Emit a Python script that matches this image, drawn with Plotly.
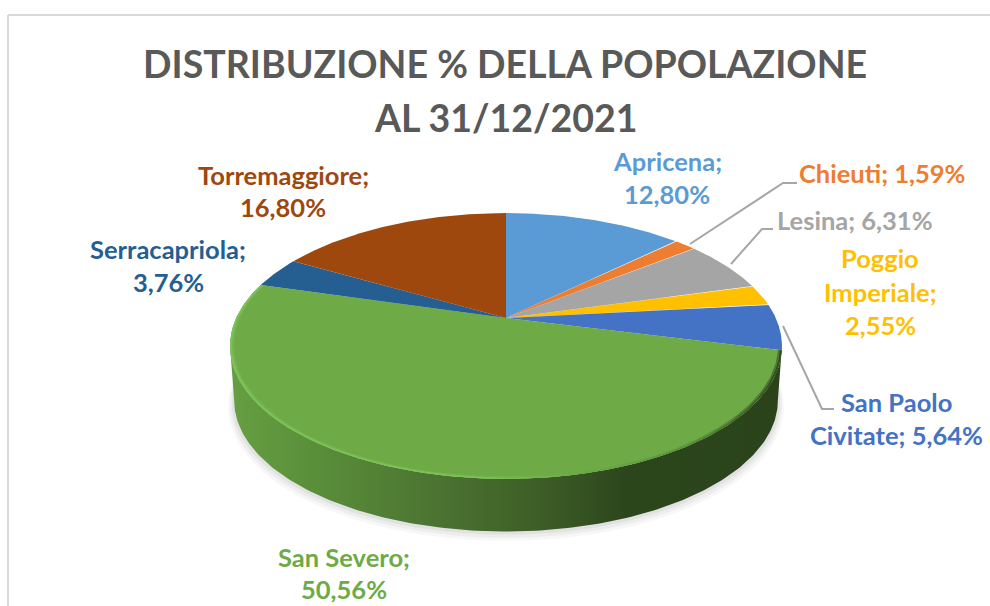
import numpy as np
import plotly.graph_objects as go

# ---- data ----
categories = ["Apricena", "Chieuti", "Lesina", "Poggio Imperiale", "San Paolo Civitate",
              "San Severo", "Serracapriola", "Torremaggiore"]
shares = [12.80, 1.59, 6.31, 2.55, 5.64, 50.56, 3.76, 16.80]
colors = ["#5B9BD5", "#ED7D31", "#A5A5A5", "#FFC000", "#4472C4", "#6EAB46", "#255E91", "#9E480E"]
title_lines = ["DISTRIBUZIONE % DELLA POPOLAZIONE", "AL 31/12/2021"]
# how each label wraps, {v} = value
label_templates = ["Apricena;|{v}", "Chieuti; {v}", "Lesina; {v}", "Poggio|Imperiale;|{v}",
                   "San Paolo|Civitate; {v}", "San Severo;|{v}", "Serracapriola;|{v}", "Torremaggiore;|{v}"]

# ---- layout geometry (pixels) ----
W, H = 990, 606
CX, CY = 506, 318        # apex of the pie on screen
A, B, K = 269.8, 127.0, 0.2105   # projected circle
DEPTH = 55
label_pos = [(667, [161, 194]), (882, [173]), (855, [220]), (880, [258, 292, 325]),
             (896, [402, 435]), (344, [557, 589]), (168, [249, 282]), (283, [175, 207])]
title_pos = [(505, 63), (505, 117)]
leaders = [[(690, 244), (783, 183), (797, 183)],
           [(731, 264), (762, 229), (773, 229)],
           [(783, 326), (822, 409), (834, 409)]]
FONT = "Lato, Carlito, Calibri, sans-serif"


def rim(theta, scale=1.0, dy=0.0):
    s, c = np.sin(theta), np.cos(theta)
    d = 1 + K * c
    return CX + scale * A * s / d, CY - scale * B * c / d + dy


vals = np.array(shares, dtype=float)
edges = np.concatenate([[0], np.cumsum(vals)]) / vals.sum() * 2 * np.pi

fig = go.Figure()

# front arc covered by the side wall: from right extreme to the left extreme
front = np.linspace(np.arccos(-K), 2 * np.pi - np.arccos(-K), 200)

# soft shadow
for grow, dy, op in [(1.022, 6, 0.05), (1.015, 4, 0.06), (1.008, 2, 0.08)]:
    th = np.linspace(0, 2 * np.pi, 240)
    sx, sy = rim(th, 0.985 * grow, DEPTH + dy)
    fig.add_trace(go.Scatter(x=sx, y=sy, mode="lines", line=dict(width=0), fill="toself",
                             fillcolor=f"rgba(90,90,90,{op})", hoverinfo="skip"))

# side wall
tx, ty = rim(front)
bx, by = rim(front, 0.985, DEPTH)
fig.add_trace(go.Scatter(
    x=np.concatenate([tx, bx[::-1]]), y=np.concatenate([ty, by[::-1]]),
    mode="lines", line=dict(width=0), fill="toself", hoverinfo="skip",
    fillgradient=dict(type="horizontal", colorscale=[
        [0.0, "#669f42"], [0.15, "#5a8f3a"], [0.4, "#4a7030"], [0.55, "#3e5f28"],
        [0.72, "#2c461c"], [1.0, "#2a431b"]])))

# top face slices
for i, name in enumerate(categories):
    th = np.linspace(edges[i], edges[i + 1], 120)
    x, y = rim(th)
    fig.add_trace(go.Scatter(
        x=np.concatenate([[CX], x, [CX]]), y=np.concatenate([[CY], y, [CY]]),
        mode="lines", line=dict(width=0), fill="toself", fillcolor=colors[i],
        name=name, hoveron="fills", text=f"{name}: {shares[i]:.2f}%".replace(".", ","),
        hoverinfo="text"))

# bevel on the front rim of the large slice, two soft bands
sev = categories.index("San Severo")
th = np.linspace(edges[sev], edges[sev + 1], 200)
for inner, scale in [(0.986, [[0.0, "#74b44f"], [0.45, "#75b64f"], [0.62, "#6EAB46"], [0.82, "#659f41"],
                              [0.93, "#56863a"], [1.0, "#4a7330"]]),
                     (0.993, [[0.0, "#7cc45a"], [0.45, "#7cc45a"], [0.62, "#6EAB46"], [0.82, "#5b8f3b"],
                              [0.93, "#3f6428"], [1.0, "#2f4c1e"]])]:
    ox, oy = rim(th)
    ix, iy = rim(th, inner)
    fig.add_trace(go.Scatter(
        x=np.concatenate([ox, ix[::-1]]), y=np.concatenate([oy, iy[::-1]]),
        mode="lines", line=dict(width=0), fill="toself", hoverinfo="skip",
        fillgradient=dict(type="horizontal", colorscale=scale)))

# leader lines
for pts in leaders:
    fig.add_trace(go.Scatter(x=[p[0] for p in pts], y=[p[1] for p in pts], mode="lines",
                             line=dict(color="#A6A6A6", width=2), hoverinfo="skip"))

annotations = []
for (cx, ys), tpl, col, v in zip(label_pos, label_templates, colors, shares):
    vtxt = f"{v:.2f}%".replace(".", ",")
    for yy, line in zip(ys, tpl.format(v=vtxt).split("|")):
        annotations.append(dict(x=cx, y=yy, text=f"<b>{line}</b>", showarrow=False,
                                xanchor="center", yanchor="middle", xref="x", yref="y",
                                font=dict(family=FONT, size=25.5, color=col)))
for (cx, yy), line in zip(title_pos, title_lines):
    annotations.append(dict(x=cx, y=yy, text=f"<b>{line}</b>", showarrow=False,
                            xanchor="center", yanchor="middle", xref="x", yref="y",
                            font=dict(family=FONT, size=37.5, color="#595959")))

frame = dict(color="#D9D9D9", width=2)
fig.update_layout(
    width=W, height=H, margin=dict(l=0, r=0, t=0, b=0), showlegend=False,
    paper_bgcolor="white", plot_bgcolor="white",
    xaxis=dict(range=[0, W], visible=False, fixedrange=True),
    yaxis=dict(range=[H, 0], visible=False, fixedrange=True),
    annotations=annotations,
    shapes=[dict(type="line", x0=8, x1=W, y0=15, y1=15, xref="x", yref="y", line=frame),
            dict(type="line", x0=8, x1=8, y0=15, y1=H, xref="x", yref="y", line=frame)],
)
fig.write_html("out.html", config={"displayModeBar": False},
               post_script="document.body.style.margin='0';document.body.style.overflow='hidden';")
